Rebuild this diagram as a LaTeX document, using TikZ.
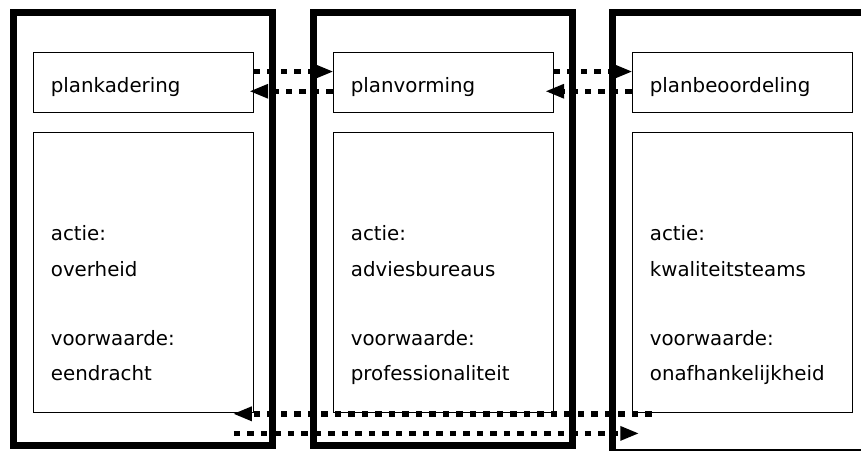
\documentclass[tikz,border=0pt]{standalone}
\usepackage{fontspec}
\setmainfont{DejaVu Sans}
\usetikzlibrary{arrows.meta}
\begin{document}
\begin{tikzpicture}[x=1pt,y=-1pt,
  column/.style={draw,line width=7pt,line join=miter},
  topbox/.style={draw,line width=1.1pt,minimum width=220pt,minimum height=60pt,inner sep=0pt,anchor=north west},
  lowbox/.style={draw,line width=1.1pt,minimum width=220pt,minimum height=280pt,inner sep=0pt,anchor=north west},
  lbl/.style={anchor=base west,inner sep=0pt,font=\fontsize{19.8pt}{23pt}\selectfont},
  flow/.style={line width=5.5pt,dash pattern=on 6.5pt off 7pt,
    -{Triangle[length=18pt,width=15pt,line width=0pt]}}]
\useasboundingbox (0,0) rectangle (861,450);
\fill[white] (0,0) rectangle (861,450);
% columns
\draw[column] (13,12) rectangle (272,445.5);
\draw[column] (313,12) rectangle (572,445.5);
\begin{scope}
\clip (0,0) rectangle (861,450);
\draw[column] (612,12) rectangle (900,452);
\end{scope}
% boxes
\node[topbox] (t1) at (32.7,51.7) {};
\node[topbox] (t2) at (332.7,51.7) {};
\node[topbox] (t3) at (631.7,51.7) {};
\node[lowbox] (b1) at (32.7,131.7) {};
\node[lowbox] (b2) at (332.7,131.7) {};
\node[lowbox] (b3) at (631.7,131.7) {};
% labels
\node[lbl] (l1) at (50.7,92.3) {plankadering};
\node[lbl] (l2) at (350.7,92.3) {planvorming};
\node[lbl] (l3) at (649.7,92.3) {planbeoordeling};
\foreach \x/\n/\a/\v in {50.7/1/overheid/eendracht, 350.7/2/adviesbureaus/professionaliteit, 649.7/3/kwaliteitsteams/onafhankelijkheid}{
  \node[lbl] (ac\n) at (\x,240.7) {actie:};
  \node[lbl] (an\n) at (\x,276) {\a};
  \node[lbl] (vw\n) at (\x,345) {voorwaarde:};
  \node[lbl] (vn\n) at (\x,380) {\v};
}
% arrow end points
\coordinate (p1) at ([yshift=10.7pt]t1.east);
\coordinate (q1) at ([yshift=10.7pt]t2.west);
\coordinate (p2) at ([yshift=-9pt]t2.west);
\coordinate (q2) at ([xshift=-3.6pt,yshift=-9pt]t1.east);
\coordinate (p3) at ([yshift=10.7pt]t2.east);
\coordinate (q3) at ([yshift=10.7pt]t3.west);
\coordinate (p4) at ([yshift=-9pt]t3.west);
\coordinate (q4) at ([xshift=-7.7pt,yshift=-9pt]t2.east);
\coordinate (p5) at ([xshift=20pt,yshift=-1pt]b3.south west);
\coordinate (q5) at ([xshift=-20pt,yshift=-1pt]b1.south east);
\coordinate (p6) at ([xshift=-20pt,yshift=-20.6pt]b1.south east);
\coordinate (q6) at ([xshift=6.6pt,yshift=-20.6pt]b3.south west);
\draw[flow] (p1) -- (q1);
\draw[flow] (p2) -- (q2);
\draw[flow] (p3) -- (q3);
\draw[flow] (p4) -- (q4);
\draw[flow] (p5) -- (q5);
\draw[flow] (p6) -- (q6);
\end{tikzpicture}
\end{document}
